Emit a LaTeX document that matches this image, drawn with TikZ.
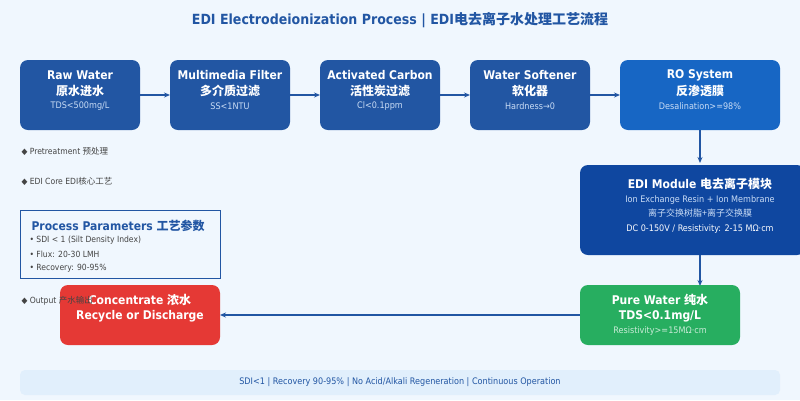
\documentclass[tikz,border=0pt]{standalone}
\usepackage{fontspec}
\setmainfont{DejaVu Sans Condensed}
\newfontfamily\cjk{Noto Sans CJK SC}
\usetikzlibrary{arrows.meta}
\definecolor{bg}{HTML}{F0F7FE}
\definecolor{bluebox}{HTML}{2256A3}
\definecolor{robox}{HTML}{1766C4}
\definecolor{edibox}{HTML}{0F47A0}
\definecolor{greenbox}{HTML}{27AE60}
\definecolor{redbox}{HTML}{E53935}
\definecolor{titlec}{HTML}{2256A3}
\definecolor{arr}{HTML}{2256A3}
\definecolor{bar}{HTML}{E1EFFC}
\definecolor{txt}{HTML}{444444}
\definecolor{light}{HTML}{C9DCF5}
\tikzset{
 box/.style={rounded corners=8pt,draw=none},
 flow/.style={draw=arr,line width=1.5pt,-{Stealth[length=6pt,width=5pt]}},
 head/.style={text=white,font=\bfseries\fontsize{12}{14}\selectfont},
 sub/.style={text=light,font=\fontsize{9}{11}\selectfont},
 note/.style={text=txt,font=\fontsize{8.5}{10}\selectfont,anchor=west}
}
\begin{document}
\begin{tikzpicture}[x=1pt,y=-1pt]
\fill[bg] (0,0) rectangle (800,400);
\useasboundingbox (0,0) rectangle (800,400);
\node[text=titlec,font=\bfseries\fontsize{14}{16}\selectfont] (title) at (400,20) {EDI Electrodeionization Process | EDI{\cjk 电去离子水处理工艺流程}};
% top row
\foreach \n/\x/\c in {raw/20/bluebox,mmf/170/bluebox,ac/320/bluebox,ws/470/bluebox}{
 \fill[box,\c] (\x,60) rectangle ++(120,70);
 \coordinate (\n) at (\x+60,95);
}
\fill[box,robox] (620,60) rectangle (780,130);
\coordinate (ro) at (700,95);
\node[head] at (80,75) {Raw Water};
\node[head] at (80,91) {\cjk 原水进水};
\node[sub] at (80,106) {TDS<500mg/L};
\node[head] at (230,75) {Multimedia Filter};
\node[head] at (230,91) {\cjk 多介质过滤};
\node[sub] at (230,106) {SS<1NTU};
\node[head] at (380,75) {Activated Carbon};
\node[head] at (380,91) {\cjk 活性炭过滤};
\node[sub] at (380,106) {Cl<0.1ppm};
\node[head] at (530,75) {Water Softener};
\node[head] at (530,91) {\cjk 软化器};
\node[sub] at (530,106) {Hardness→0};
\node[head] at (700,75) {RO System};
\node[head] at (700,91) {\cjk 反渗透膜};
\node[sub] at (700,106) {Desalination>=98\%};
\coordinate (rawE) at (140,95); \coordinate (mmfW) at (170,95);
\coordinate (mmfE) at (290,95); \coordinate (acW) at (320,95);
\coordinate (acE) at (440,95); \coordinate (wsW) at (470,95);
\coordinate (wsE) at (590,95); \coordinate (roW) at (620,95);
\draw[flow] (rawE) -- (mmfW);
\draw[flow] (mmfE) -- (acW);
\draw[flow] (acE) -- (wsW);
\draw[flow] (wsE) -- (roW);
% EDI
\fill[box,edibox] (580,165) rectangle (805,255);
\node[head] at (700,184) {EDI Module {\cjk 电去离子模块}};
\node[sub] at (700,200) {Ion Exchange Resin + Ion Membrane};
\node[sub] at (700,213) {\cjk 离子交换树脂+离子交换膜};
\node[text=white!90!light,font=\fontsize{9}{11}\selectfont] at (700,229) {DC 0-150V / Resistivity: 2-15 MΩ·cm};
\coordinate (roS) at (700,130); \coordinate (ediN) at (700,163);
\coordinate (ediS) at (700,255); \coordinate (pureN) at (700,286);
\draw[flow] (roS) -- (ediN);
\draw[flow] (ediS) -- (pureN);
% pure
\fill[box,greenbox] (580,285) rectangle (740,345);
\node[head] at (660,300) {Pure Water {\cjk 纯水}};
\node[head] at (660,316) {TDS<0.1mg/L};
\node[sub,text=white!75!greenbox] at (660,331) {Resistivity>=15MΩ·cm};
% concentrate
\fill[box,redbox] (60,285) rectangle (220,345);
\node[head] at (140,300) {Concentrate {\cjk 浓水}};
\node[head] at (140,316) {Recycle or Discharge};
\coordinate (pureW) at (580,315); \coordinate (concE) at (220,315);
\draw[flow] (pureW) -- (concE);
% notes
\node[note] at (18,151) {◆ Pretreatment {\cjk 预处理}};
\node[note] at (18,181) {◆ EDI Core EDI{\cjk 核心工艺}};
\node[note] at (18,301) {◆ Output {\cjk 产水输出}};
% params
\draw[draw=bluebox,fill=bg,line width=0.8pt] (20,210) rectangle (220,278);
\node[anchor=west,text=bluebox,font=\bfseries\fontsize{12}{14}\selectfont] at (28,226) {Process Parameters {\cjk 工艺参数}};
\node[note] at (26,240) {• SDI < 1 (Silt Density Index)};
\node[note] at (26,254) {• Flux: 20-30 LMH};
\node[note] at (26,268) {• Recovery: 90-95\%};
% bottom bar
\fill[bar,rounded corners=5pt] (20,370) rectangle (780,395);
\node[text=bluebox,font=\fontsize{9}{11}\selectfont] at (400,382.5) {SDI<1 | Recovery 90-95\% | No Acid/Alkali Regeneration | Continuous Operation};
\end{tikzpicture}
\end{document}
